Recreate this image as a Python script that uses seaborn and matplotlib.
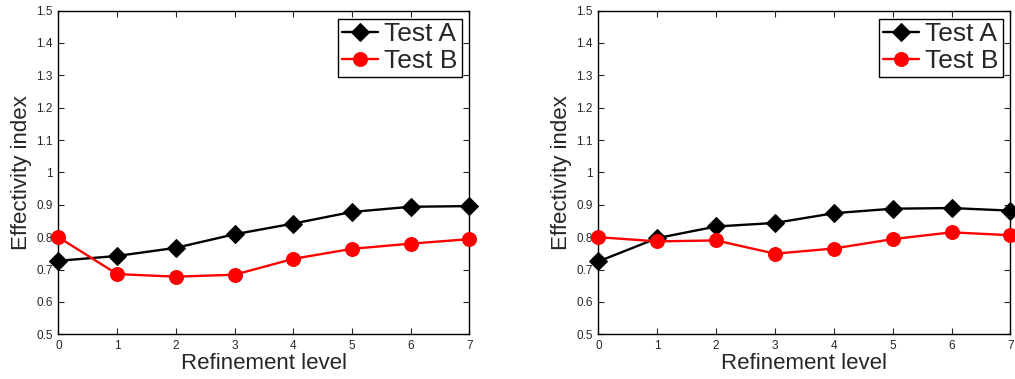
import matplotlib
matplotlib.use("Agg")
import matplotlib.pyplot as plt
import seaborn as sns
import numpy as np
from matplotlib.ticker import FuncFormatter

sns.set_style("ticks")
plt.rcParams['font.family'] = ['Liberation Sans', 'DejaVu Sans']

# data
levels = [0, 1, 2, 3, 4, 5, 6, 7]
left_a = [0.727, 0.742, 0.767, 0.809, 0.842, 0.878, 0.894, 0.896]
left_b = [0.800, 0.686, 0.678, 0.684, 0.733, 0.764, 0.780, 0.794]
right_a = [0.725, 0.797, 0.833, 0.844, 0.874, 0.888, 0.890, 0.882]
right_b = [0.800, 0.787, 0.790, 0.749, 0.765, 0.794, 0.815, 0.806]
y_ticks = [0.5, 0.6, 0.7, 0.8, 0.9, 1.0, 1.1, 1.2, 1.3, 1.4, 1.5]

fig = plt.figure(figsize=(10.15, 3.79), dpi=100)
ax1 = fig.add_axes([0.0575, 0.118, 0.405, 0.854])
ax2 = fig.add_axes([0.5895, 0.118, 0.406, 0.854])


def draw_panel(ax, a_vals, b_vals):
    sns.lineplot(x=levels, y=a_vals, ax=ax, color='black', marker='D',
                 markersize=9.5, linewidth=1.7, markeredgecolor='black',
                 label='Test A', clip_on=False, zorder=3)
    sns.lineplot(x=levels, y=b_vals, ax=ax, color='red', marker='o',
                 markersize=10, linewidth=1.7, markeredgecolor='red',
                 label='Test B', clip_on=False, zorder=3)
    ax.set_xlim(0, 7)
    ax.set_ylim(0.5, 1.5)
    ax.set_xticks(levels)
    ax.set_yticks(y_ticks)
    ax.yaxis.set_major_formatter(FuncFormatter(lambda v, p: f"{v:g}"))
    ax.tick_params(direction='in', length=4, width=0.8, labelsize=8.5,
                   top=True, right=True, pad=4)
    for s in ax.spines.values():
        s.set_visible(True)
        s.set_linewidth(1.0)
        s.set_color('black')
    ax.set_xlabel('Refinement level', fontsize=16, labelpad=1)
    ax.set_ylabel('Effectivity index', fontsize=16, labelpad=3)
    leg = ax.legend(loc='upper right', fontsize=19, frameon=True, fancybox=False,
                    framealpha=1, edgecolor='black', handlelength=1.35,
                    handletextpad=0.25, borderpad=0.15, labelspacing=0.1,
                    borderaxespad=0.3)
    leg.get_frame().set_linewidth(1.0)


draw_panel(ax1, left_a, left_b)
draw_panel(ax2, right_a, right_b)

fig.savefig('out.png', dpi=100)
